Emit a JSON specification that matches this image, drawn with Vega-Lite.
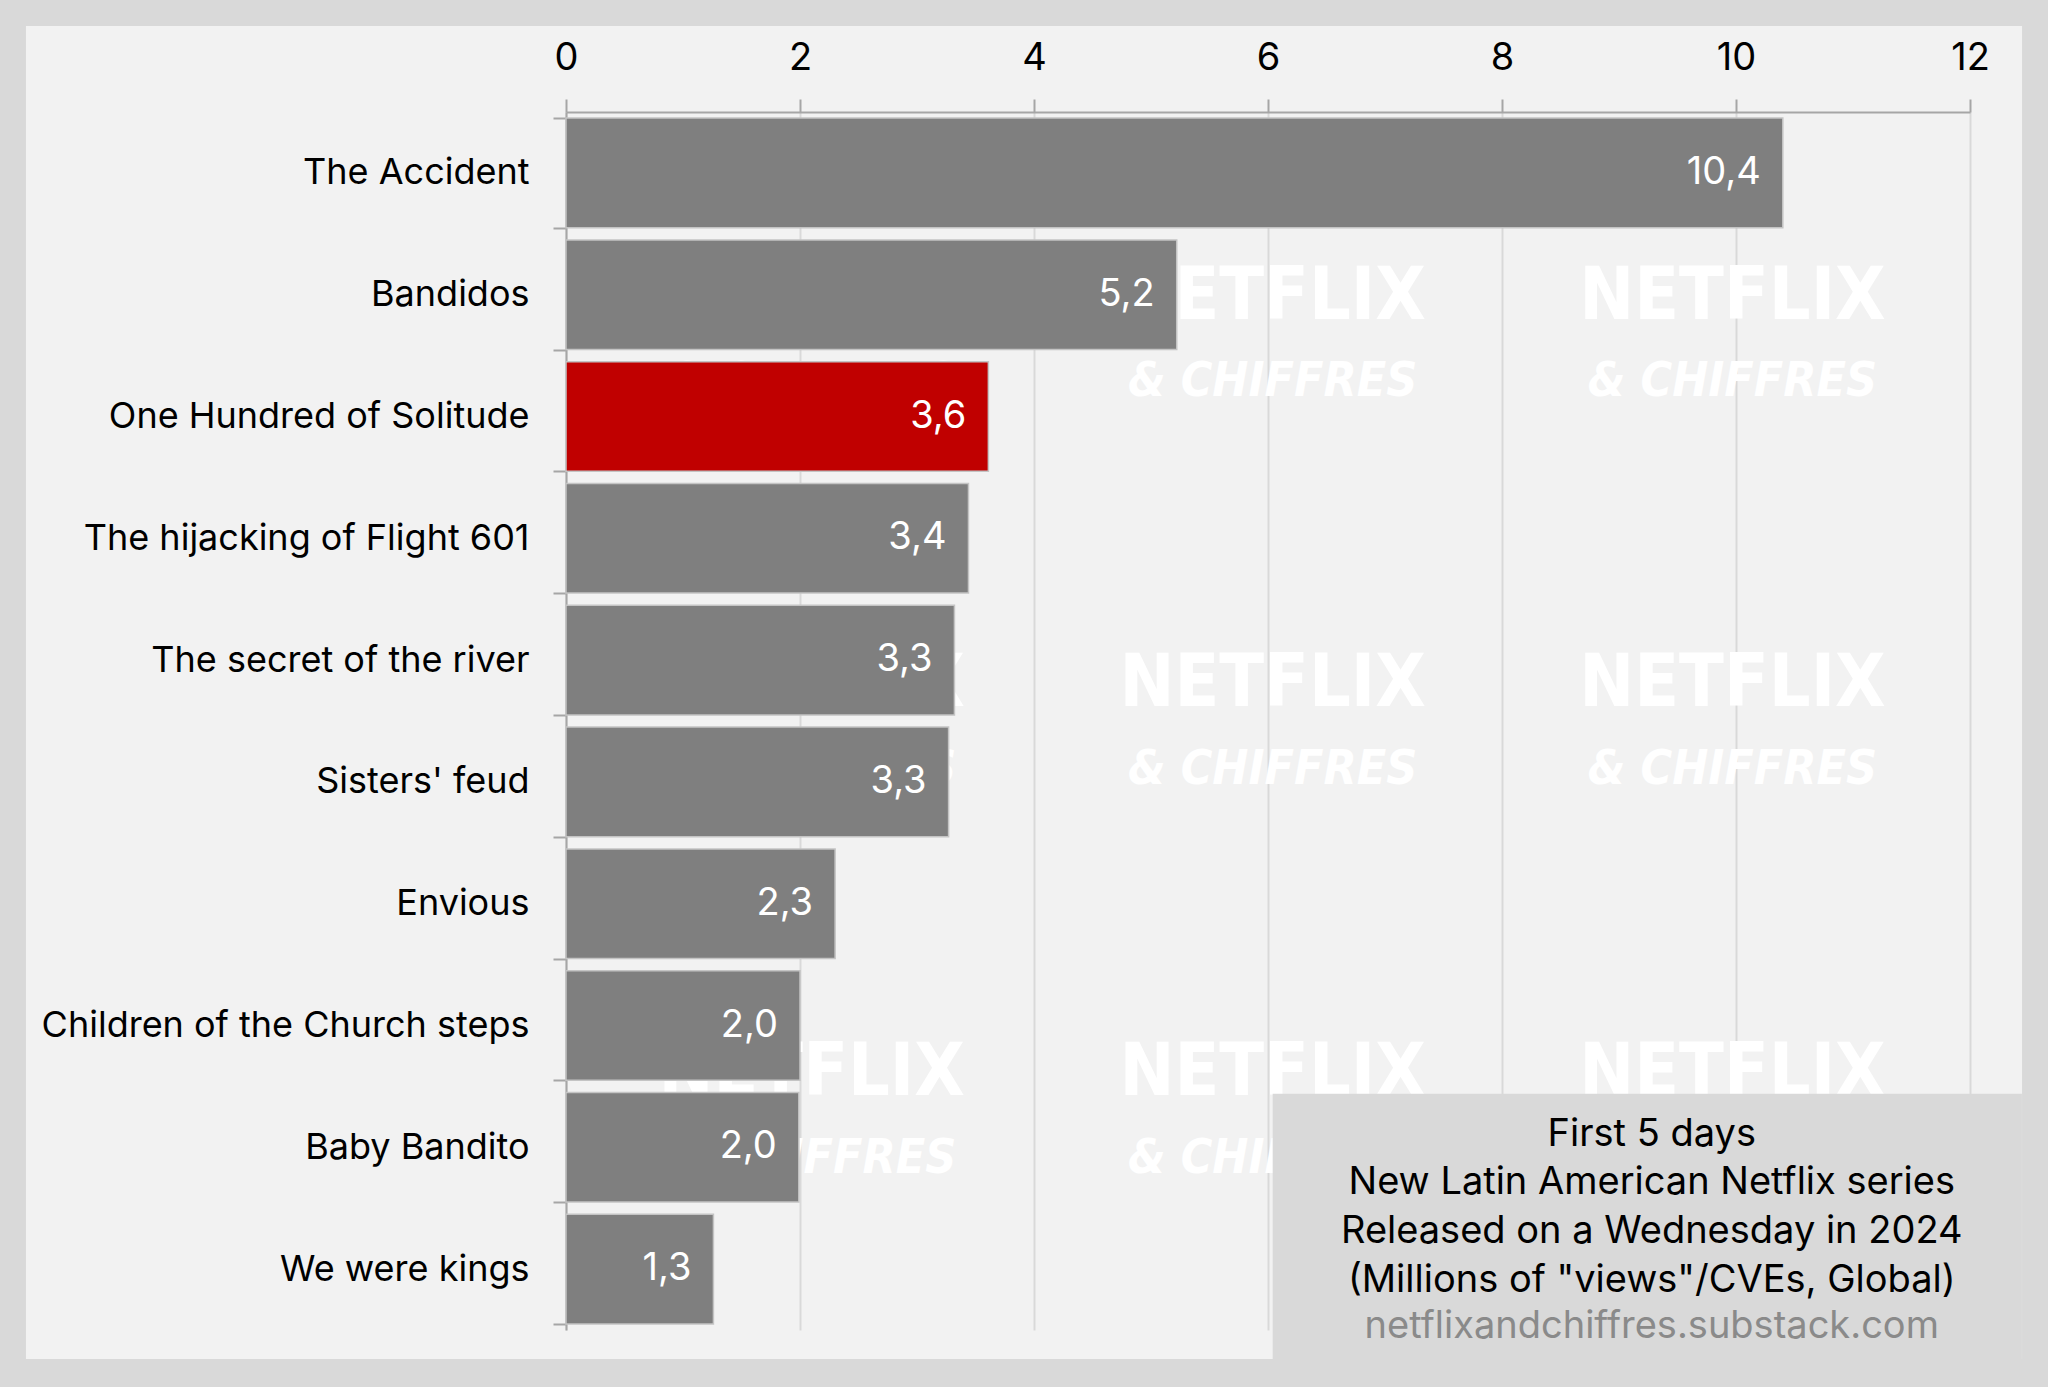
{
  "$schema": "https://vega.github.io/schema/vega-lite/v6.json",
  "width": 1404,
  "height": 1218,
  "autosize": {"type": "none"},
  "padding": {"left": 566, "top": 112, "right": 78, "bottom": 57},
  "background": "#f2f2f2",
  "config": {
    "view": {"stroke": null},
    "font": "Inter",
    "locale": {"number": {"decimal": ",", "thousands": " ", "grouping": [3], "currency": ["", " €"]}}
  },
  "datasets": {
    "series": [
      {"title": "The Accident", "views": 10.4, "group": "other"},
      {"title": "Bandidos", "views": 5.22, "group": "other"},
      {"title": "One Hundred of Solitude", "views": 3.61, "group": "featured"},
      {"title": "The hijacking of Flight 601", "views": 3.44, "group": "other"},
      {"title": "The secret of the river", "views": 3.32, "group": "other"},
      {"title": "Sisters' feud", "views": 3.27, "group": "other"},
      {"title": "Envious", "views": 2.3, "group": "other"},
      {"title": "Children of the Church steps", "views": 2.0, "group": "other"},
      {"title": "Baby Bandito", "views": 1.99, "group": "other"},
      {"title": "We were kings", "views": 1.26, "group": "other"}
    ],
    "watermarks": [
      {"part": "name", "text": "NETFLIX", "x": 2.1, "y": 1.515},
      {"part": "name", "text": "NETFLIX", "x": 6.04, "y": 1.515},
      {"part": "name", "text": "NETFLIX", "x": 9.97, "y": 1.515},
      {"part": "name", "text": "NETFLIX", "x": 2.1, "y": 4.7},
      {"part": "name", "text": "NETFLIX", "x": 6.04, "y": 4.7},
      {"part": "name", "text": "NETFLIX", "x": 9.97, "y": 4.7},
      {"part": "name", "text": "NETFLIX", "x": 2.1, "y": 7.89},
      {"part": "name", "text": "NETFLIX", "x": 6.04, "y": 7.89},
      {"part": "name", "text": "NETFLIX", "x": 9.97, "y": 7.89},
      {"part": "tagline", "text": "& CHIFFRES", "x": 2.1, "y": 2.22},
      {"part": "tagline", "text": "& CHIFFRES", "x": 6.04, "y": 2.22},
      {"part": "tagline", "text": "& CHIFFRES", "x": 9.97, "y": 2.22},
      {"part": "tagline", "text": "& CHIFFRES", "x": 2.1, "y": 5.4},
      {"part": "tagline", "text": "& CHIFFRES", "x": 6.04, "y": 5.4},
      {"part": "tagline", "text": "& CHIFFRES", "x": 9.97, "y": 5.4},
      {"part": "tagline", "text": "& CHIFFRES", "x": 2.1, "y": 8.6},
      {"part": "tagline", "text": "& CHIFFRES", "x": 6.04, "y": 8.6},
      {"part": "tagline", "text": "& CHIFFRES", "x": 9.97, "y": 8.6}
    ],
    "note_box": [{"x1": 6.04, "x2": 12.444, "y1": 8.06, "y2": 10.24}],
    "note_lines": [
      {"text": "First 5 days", "kind": "info", "x": 9.28, "y": 8.489},
      {"text": "New Latin American Netflix series", "kind": "info", "x": 9.28, "y": 8.883},
      {"text": "Released on a Wednesday in 2024", "kind": "info", "x": 9.28, "y": 9.284},
      {"text": "(Millions of \"views\"/CVEs, Global)", "kind": "info", "x": 9.28, "y": 9.686},
      {"text": "netflixandchiffres.substack.com", "kind": "source", "x": 9.28, "y": 10.066}
    ],
    "frame": [{"x1": -4.838, "x2": 12.667, "y1": -0.9195, "y2": 10.452}]
  },
  "layer": [
    {
      "data": {"name": "watermarks"},
      "encoding": {
        "x": {"field": "x", "type": "quantitative", "scale": {"domain": [0, 12], "nice": false, "zero": false}, "axis": null},
        "y": {"field": "y", "type": "quantitative", "scale": {"domain": [0, 10], "reverse": true, "nice": false, "zero": false}, "axis": null},
        "text": {"field": "text"}
      },
      "layer": [
        {
          "transform": [{"filter": "datum.part == 'name'"}],
          "mark": {"type": "text", "font": "Liberation Sans Narrow, DejaVu Sans Condensed, sans-serif", "fontWeight": "bold", "fontSize": 73, "color": "#ffffff", "baseline": "middle"}
        },
        {
          "transform": [{"filter": "datum.part == 'tagline'"}],
          "mark": {"type": "text", "font": "Liberation Sans Narrow, DejaVu Sans Condensed, sans-serif", "fontWeight": "bold", "fontStyle": "italic", "fontSize": 48, "color": "#ffffff", "baseline": "middle"}
        }
      ]
    },
    {
      "data": {"name": "series"},
      "encoding": {
        "y": {
          "field": "title",
          "type": "nominal",
          "sort": null,
          "scale": {"paddingInner": 0.1, "paddingOuter": 0.05},
          "axis": {
            "title": null,
            "domainColor": "#a6a6a6",
            "domainWidth": 2,
            "tickColor": "#a6a6a6",
            "tickWidth": 2,
            "tickSize": 13,
            "tickBand": "extent",
            "labelFontSize": 36,
            "labelColor": "#000000",
            "labelPadding": 24,
            "labelLimit": 700
          }
        },
        "x": {
          "field": "views",
          "type": "quantitative",
          "scale": {"domain": [0, 12], "nice": false, "zero": false},
          "axis": {
            "orient": "top",
            "title": null,
            "values": [0, 2, 4, 6, 8, 10, 12],
            "grid": true,
            "gridColor": "#d9d9d9",
            "gridWidth": 2,
            "domainColor": "#a6a6a6",
            "domainWidth": 2,
            "tickColor": "#a6a6a6",
            "tickWidth": 2,
            "tickSize": 13,
            "labelFontSize": 38,
            "labelColor": "#000000",
            "labelPadding": 22,
            "labelFlush": false,
            "labelOverlap": false
          }
        }
      },
      "layer": [
        {
          "mark": {"type": "bar", "stroke": "#c4c4c4", "strokeWidth": 1.5},
          "encoding": {
            "color": {"field": "group", "type": "nominal", "scale": {"domain": ["other", "featured"], "range": ["#7f7f7f", "#c00000"]}, "legend": null}
          }
        },
        {
          "mark": {"type": "text", "align": "right", "baseline": "middle", "dx": -22, "fontSize": 38, "color": "#ffffff"},
          "encoding": {
            "text": {"field": "views", "type": "quantitative", "format": ".1f"}
          }
        }
      ]
    },
    {
      "layer": [
        {
          "data": {"name": "note_box"},
          "mark": {"type": "rect", "color": "#d9d9d9"},
          "encoding": {
            "x": {"field": "x1", "type": "quantitative", "scale": {"domain": [0, 12], "nice": false, "zero": false}, "axis": null},
            "x2": {"field": "x2"},
            "y": {"field": "y1", "type": "quantitative", "scale": {"domain": [0, 10], "reverse": true, "nice": false, "zero": false}, "axis": null},
            "y2": {"field": "y2"}
          }
        },
        {
          "data": {"name": "note_lines"},
          "mark": {"type": "text", "align": "center", "baseline": "alphabetic", "fontSize": 38},
          "encoding": {
            "x": {"field": "x", "type": "quantitative", "scale": {"domain": [0, 12], "nice": false, "zero": false}, "axis": null},
            "y": {"field": "y", "type": "quantitative", "scale": {"domain": [0, 10], "reverse": true, "nice": false, "zero": false}, "axis": null},
            "text": {"field": "text"},
            "color": {"field": "kind", "type": "nominal", "scale": {"domain": ["info", "source"], "range": ["#000000", "#8a8a8a"]}, "legend": null}
          }
        },
        {
          "data": {"name": "frame"},
          "mark": {"type": "rect", "fill": null, "stroke": "#d9d9d9", "strokeWidth": 52},
          "encoding": {
            "x": {"field": "x1", "type": "quantitative", "scale": {"domain": [0, 12], "nice": false, "zero": false}, "axis": null},
            "x2": {"field": "x2"},
            "y": {"field": "y1", "type": "quantitative", "scale": {"domain": [0, 10], "reverse": true, "nice": false, "zero": false}, "axis": null},
            "y2": {"field": "y2"}
          }
        }
      ]
    }
  ],
  "resolve": {"scale": {"y": "independent", "color": "independent"}, "axis": {"x": "independent"}}
}
